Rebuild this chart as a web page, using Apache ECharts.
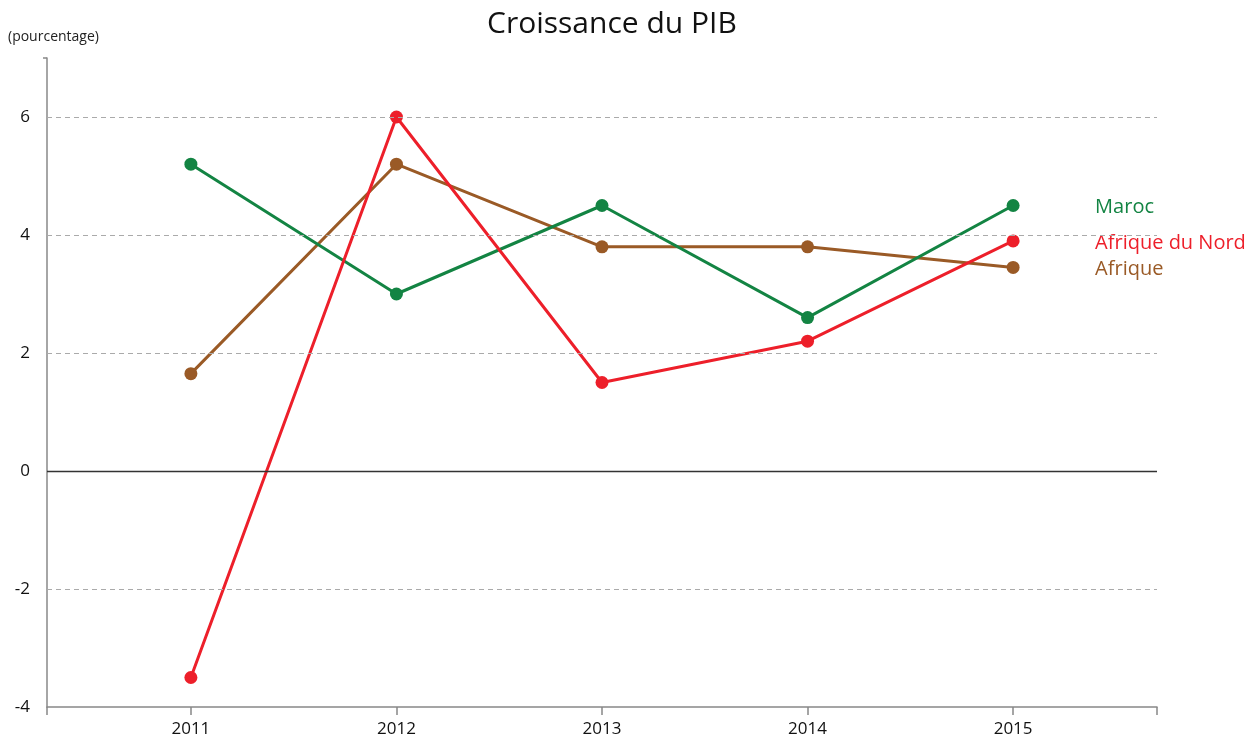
<!DOCTYPE html>
<html lang="fr">
<head>
    <meta charset="UTF-8">
    <title>Croissance du PIB</title>
    <script src="https://cdn.jsdelivr.net/npm/echarts@6/dist/echarts.min.js"></script>
    <style>
        html, body { margin: 0; padding: 0; background: #fff; }
        #chart { width: 1254px; height: 742px; }
    </style>
</head>
<body>
<div id="chart"></div>
<script>
    var years = [2011, 2012, 2013, 2014, 2015];
    var maroc = [5.2, 3.0, 4.5, 2.6, 4.5];
    var afriqueNord = [-3.5, 6.0, 1.5, 2.2, 3.9];
    var afrique = [1.65, 5.2, 3.8, 3.8, 3.45];
    var yTicks = [-4, -2, 0, 2, 4, 6];

    function pairs(vals) {
        return years.map(function (y, i) { return [y, vals[i]]; });
    }

    var font = '"Open Sans", "Noto Sans", sans-serif';

    function line(name, vals, color) {
        return {
            name: name,
            type: 'line',
            data: pairs(vals),
            symbol: 'circle',
            symbolSize: 13,
            lineStyle: {color: color, width: 3},
            itemStyle: {color: color},
            endLabel: {
                show: true,
                formatter: name,
                color: color,
                fontSize: 20,
                fontFamily: font,
                distance: 82,
                offset: [0, 2]
            },
            z: 3
        };
    }

    var chart = echarts.init(document.getElementById('chart'));
    chart.setOption({
        animation: false,
        textStyle: {fontFamily: font},
        title: {
            text: 'Croissance du PIB',
            left: 482,
            top: 4,
            textStyle: {fontSize: 30, fontWeight: 'normal', color: '#111', fontFamily: font}
        },
        graphic: [{
            type: 'text',
            left: 8,
            top: 30,
            style: {text: '(pourcentage)', fontSize: 14, fill: '#222', fontFamily: font}
        }],
        grid: {left: 47, right: 97, top: 58, bottom: 35},
        xAxis: {
            type: 'value',
            min: 2010.3,
            max: 2015.7,
            splitLine: {show: false},
            axisLine: {onZero: false, lineStyle: {color: '#888', width: 1.5}},
            axisTick: {
                show: true,
                length: 8,
                customValues: [2010.3].concat(years).concat([2015.7]),
                lineStyle: {color: '#888', width: 1.5}
            },
            axisLabel: {
                customValues: years,
                color: '#111',
                fontSize: 17,
                margin: 14,
                formatter: function (v) { return String(v); }
            }
        },
        yAxis: {
            type: 'value',
            min: -4,
            max: 7,
            interval: 1,
            axisLine: {show: true, lineStyle: {color: '#888', width: 1.5}},
            axisTick: {show: true, length: 4, customValues: [7], lineStyle: {color: '#888', width: 1.5}},
            axisLabel: {
                customValues: yTicks,
                color: '#111',
                fontSize: 17,
                margin: 17
            },
            splitLine: {show: false}
        },
        series: [
            {
                type: 'line',
                data: [],
                markLine: {
                    silent: true,
                    symbol: 'none',
                    label: {show: false},
                    data: yTicks.filter(function (v) { return v !== -4; }).map(function (v) {
                        return {
                            yAxis: v,
                            lineStyle: v === 0
                                ? {color: '#333', type: 'solid', width: 1.3}
                                : {color: '#aaa', type: [5, 4], width: 1.2}
                        };
                    })
                },
                z: 1
            },
            line('Afrique', afrique, '#9a5a26'),
            line('Maroc', maroc, '#138443'),
            line('Afrique du Nord', afriqueNord, '#ed1f2a')
        ]
    });
</script>
</body>
</html>
